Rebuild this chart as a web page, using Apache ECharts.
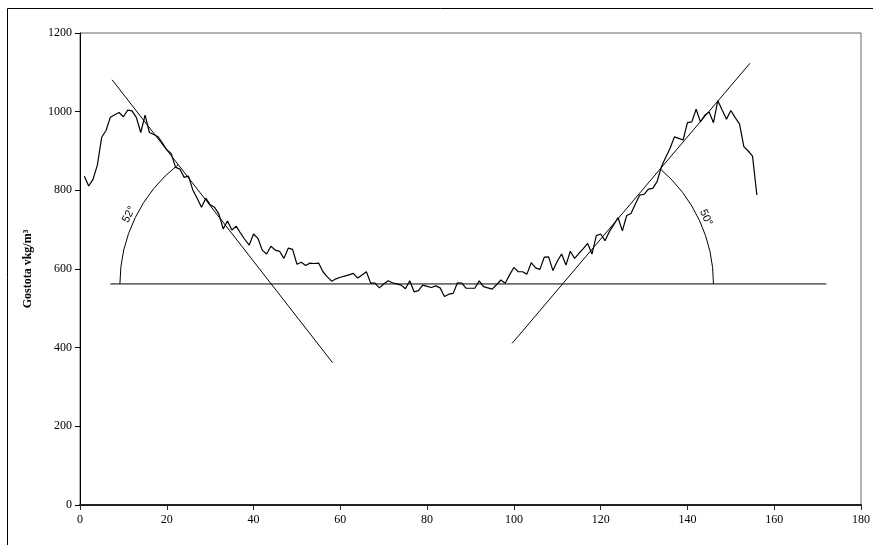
<!DOCTYPE html>
<html>
<head>
<meta charset="utf-8">
<script src="https://cdn.jsdelivr.net/npm/echarts@6/dist/echarts.min.js"></script>
<style>html,body{margin:0;padding:0;background:#fff}#c{width:873px;height:545px}</style>
</head>
<body>
<div id="c"></div>
<script>
// x positions and measured density values
const xValues = [];
for (let i = 1; i <= 156; i++) xValues.push(i);
const density = [
 836, 811, 828, 864, 935, 952, 986, 992, 998, 987,
 1004, 1002, 985, 947, 991, 947, 942, 936, 920, 903,
 894, 859, 854, 833, 836, 801, 780, 757, 780, 763,
 757, 740, 702, 722, 699, 709, 691, 675, 661, 689,
 678, 648, 638, 658, 648, 645, 627, 653, 650, 612,
 617, 609, 615, 614, 615, 593, 580, 569, 575, 579,
 582, 585, 589, 577, 585, 593, 564, 564, 552, 562,
 570, 565, 562, 559, 550, 570, 542, 545, 559, 556,
 553, 557, 552, 530, 536, 538, 565, 564, 551, 551,
 551, 570, 555, 552, 549, 560, 572, 564, 585, 604,
 593, 593, 587, 616, 603, 599, 630, 631, 596, 620,
 638, 610, 645, 627, 640, 652, 665, 638, 685, 689,
 672, 695, 712, 731, 697, 736, 741, 765, 788, 790,
 803, 805, 822, 860, 884, 907, 936, 932, 928, 972,
 974, 1006, 974, 991, 999, 972, 1028, 1004, 981, 1003,
 985, 969, 911, 900, 887, 788
];
// reference (baseline) line
const baseLine = [[7, 562], [172, 562]];
// tangent lines
const leftTangent = [[7.4, 1081], [58.2, 362]];
const rightTangent = [[99.6, 411], [154.4, 1123]];
// angle arcs: point where the arc meets the baseline, and its label
const arcEdgeX = [9.2, 146.0];
const arcLabels = ['52°', '50°'];
const xTicks = [0, 20, 40, 60, 80, 100, 120, 140, 160, 180];
const yTicks = [0, 200, 400, 600, 800, 1000, 1200];

const curve = xValues.map((x, i) => [x, density[i]]);
const tangents = [leftTangent, rightTangent];
function centerOf(t) {
  const y0 = baseLine[0][1];
  const [a, b] = t;
  const x = a[0] + (y0 - a[1]) * (b[0] - a[0]) / (b[1] - a[1]);
  return [x, y0];
}
const arcData = tangents.map((t, i) => { const c = centerOf(t); return [c[0], c[1], arcEdgeX[i]]; });

const chart = echarts.init(document.getElementById('c'), null, {renderer: 'canvas'});
const font = 'Liberation Serif';
chart.setOption({
  animation: false,
  backgroundColor: '#fff',
  graphic: [{
    type: 'rect', z: -10, silent: true,
    shape: {x: 7.5, y: 8.5, width: 1000, height: 1000},
    style: {fill: null, stroke: '#000', lineWidth: 1}
  }],
  grid: {left: 80, right: 10, top: 33, bottom: 40, show: true, borderColor: '#666', borderWidth: 1},
  xAxis: {
    type: 'value', min: xTicks[0], max: xTicks[xTicks.length - 1], interval: 20,
    splitLine: {show: false},
    axisLine: {lineStyle: {color: '#222', width: 2}},
    axisTick: {show: true, length: 5, lineStyle: {color: '#222'}},
    axisLabel: {color: '#000', fontFamily: font, fontSize: 12, margin: 9, formatter: v => String(v)}
  },
  yAxis: {
    type: 'value', min: yTicks[0], max: yTicks[yTicks.length - 1], interval: 200,
    name: 'Gostota vkg/m³', nameLocation: 'middle', nameGap: 46, nameRotate: 90,
    nameTextStyle: {color: '#000', fontFamily: font, fontSize: 12, fontWeight: 'bold'},
    splitLine: {show: false},
    axisLine: {show: true, lineStyle: {color: '#000', width: 1}},
    axisTick: {show: true, length: 5, lineStyle: {color: '#000'}},
    axisLabel: {color: '#000', fontFamily: font, fontSize: 12, margin: 8, formatter: v => String(v)}
  },
  series: [
    {type: 'line', data: curve, symbol: 'none', lineStyle: {color: '#000', width: 1.2}, z: 3},
    {type: 'line', data: baseLine, symbol: 'none', lineStyle: {color: '#000', width: 1}, z: 2},
    {type: 'line', data: leftTangent, symbol: 'none', lineStyle: {color: '#000', width: 1}, z: 2},
    {type: 'line', data: rightTangent, symbol: 'none', lineStyle: {color: '#000', width: 1}, z: 2},
    {
      type: 'custom', clip: false, z: 2,
      data: arcData,
      renderItem: function (params, api) {
        const i = params.dataIndex;
        const c = api.coord([api.value(0), api.value(1)]);
        const e = api.coord([api.value(2), api.value(1)]);
        const r = Math.abs(e[0] - c[0]);
        const t = tangents[i];
        const top = t[0][1] > t[1][1] ? t[0] : t[1];
        const tp = api.coord(top);
        let ta = Math.atan2(tp[1] - c[1], tp[0] - c[0]);
        let start, end;
        const leftSide = e[0] < c[0];
        if (leftSide) {
          if (ta < 0) ta += 2 * Math.PI;
          start = Math.PI; end = ta;
        } else {
          start = ta; end = 0;
        }
        const mid = (start + end) / 2;
        const half = Math.abs(end - start) / 2;
        const rot = leftSide ? (Math.PI / 2 - half) : -(Math.PI / 2 - half);
        const lr = r + 7;
        return {
          type: 'group',
          children: [
            {type: 'arc', shape: {cx: c[0], cy: c[1], r: r, startAngle: start, endAngle: end, clockwise: true},
             style: {fill: null, stroke: '#000', lineWidth: 1}},
            {type: 'text', x: c[0] + lr * Math.cos(mid), y: c[1] + lr * Math.sin(mid), rotation: rot,
             style: {text: arcLabels[i], fill: '#000', font: '11px "Liberation Sans"', align: 'center', verticalAlign: 'middle'}}
          ]
        };
      }
    }
  ]
});
</script>
</body>
</html>
